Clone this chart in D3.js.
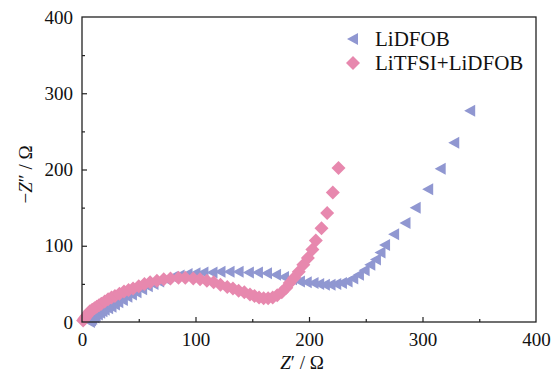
<!DOCTYPE html>
<html>
<head>
<meta charset="utf-8">
<script src="https://cdn.jsdelivr.net/npm/d3@7"></script>
<style>
body { margin: 0; background: #fff; }
</style>
</head>
<body>
<script>
var width = 560;
var height = 373;
var serif = "Liberation Serif";

// series names
var seriesNames = ["LiDFOB", "LiTFSI+LiDFOB"];

// LiDFOB: [Z', -Z'']
var lidfob = [[7,0],[8,2],[9,4],[11,6],[12,8],[14,10],[16,12],[18,14],[20,16],[23,18],[26,20],[29,23],[32,26],[36,29],[40,33],[44,36],[48,39],[53,43],[58,47],[63,50],[68,53],[74,56],[80,59],[86,61],[93,63],[100,64],[107,65],[115,65],[122,66],[130,66],[138,66],[147,65],[155,65],[163,64],[171,62],[178,59],[185,56],[192,53],[198,52],[204,51],[209,50],[214,49],[219,49],[224,50],[229,51],[234,53],[239,57],[244,62],[249,68],[254,75],[259,82],[263,91],[267,101],[275,115],[285,130],[294,150],[305,174],[316,201],[328,235],[342,277]];

// LiTFSI+LiDFOB: [Z', -Z'']
var mixed = [[1,2],[2,4],[3,6],[4,8],[5,10],[6,12],[7,14],[9,16],[11,18],[13,20],[15,22],[17,24],[20,27],[23,30],[26,32],[29,34],[33,37],[37,40],[41,42],[45,44],[50,47],[55,50],[60,52],[66,54],[72,56],[78,57],[85,58],[91,58],[98,57],[104,56],[110,54],[116,52],[122,49],[128,46],[133,44],[138,41],[143,39],[148,36],[152,34],[156,32],[160,31],[164,31],[168,32],[172,35],[176,39],[180,45],[183,51],[187,58],[191,66],[195,75],[199,84],[203,95],[206,107],[211,123],[216,143],[221,170],[226,202]];

var xTicks = [0, 100, 200, 300, 400];
var yTicks = [0, 100, 200, 300, 400];
var minorTicks = [50, 150, 250, 350];

var margin = {left: 82, right: 24, top: 17, bottom: 51};

var svg = d3.select("body").append("svg")
  .attr("width", width)
  .attr("height", height)
  .attr("font-family", serif);

var x = d3.scaleLinear().domain([0, 400]).range([margin.left, width - margin.right]);
var y = d3.scaleLinear().domain([0, 400]).range([height - margin.bottom, margin.top]);

var triPath = "M-6,0L5,-6L5,6Z";
var diaPath = "M0,-7L7,0L0,7L-7,0Z";
var triColor = "#9097d1";
var diaColor = "#e788ae";

// markers
svg.append("g").selectAll("path")
  .data(lidfob)
  .enter().append("path")
  .attr("d", triPath)
  .attr("transform", function(d){ return "translate(" + x(d[0]) + "," + y(d[1]) + ")"; })
  .attr("fill", triColor);

svg.append("g").selectAll("path")
  .data(mixed)
  .enter().append("path")
  .attr("d", diaPath)
  .attr("transform", function(d){ return "translate(" + x(d[0]) + "," + y(d[1]) + ")"; })
  .attr("fill", diaColor);

// frame
svg.append("rect")
  .attr("x", x(0))
  .attr("y", y(400))
  .attr("width", x(400) - x(0))
  .attr("height", y(0) - y(400))
  .attr("fill", "none")
  .attr("stroke", "#222")
  .attr("stroke-width", 1.3);

// axes
var xAxis = svg.append("g")
  .attr("transform", "translate(0," + y(0) + ")")
  .call(d3.axisBottom(x).tickValues(xTicks).tickSize(-5).tickPadding(11));
xAxis.selectAll(".tick").filter(function(d){ return d == 0 || d == 400; }).select("line").remove();

var xMinor = svg.append("g")
  .attr("transform", "translate(0," + y(0) + ")")
  .call(d3.axisBottom(x).tickValues(minorTicks).tickSize(-3).tickFormat(""));

var yAxis = svg.append("g")
  .attr("transform", "translate(" + x(0) + ",0)")
  .call(d3.axisLeft(y).tickValues(yTicks).tickSize(-5).tickPadding(9));
yAxis.selectAll(".tick").filter(function(d){ return d == 0 || d == 400; }).select("line").remove();

var yMinor = svg.append("g")
  .attr("transform", "translate(" + x(0) + ",0)")
  .call(d3.axisLeft(y).tickValues(minorTicks).tickSize(-3).tickFormat(""));

[xAxis, xMinor, yAxis, yMinor].forEach(function(g){
  g.attr("font-family", serif).attr("font-size", 19);
  g.select(".domain").remove();
  g.selectAll("line").attr("stroke", "#222").attr("stroke-width", 1.2);
  g.selectAll("text").attr("fill", "#111").attr("font-family", serif);
});

// axis titles
var xt = svg.append("text")
  .attr("x", (x(0) + x(400)) / 2 - 7)
  .attr("y", 369)
  .attr("text-anchor", "middle")
  .attr("font-family", serif)
  .attr("font-size", 19)
  .attr("fill", "#111");
xt.append("tspan").attr("font-style", "italic").text("Z");
xt.append("tspan").text("\u2032 / \u03A9");

var yt = svg.append("text")
  .attr("transform", "translate(32," + ((y(0) + y(400)) / 2 + 5) + ") rotate(-90)")
  .attr("text-anchor", "middle")
  .attr("font-family", serif)
  .attr("font-size", 19)
  .attr("fill", "#111");
yt.append("tspan").text("\u2212");
yt.append("tspan").attr("font-style", "italic").text("Z");
yt.append("tspan").text("\u2033 / \u03A9");

// legend
var legend = svg.append("g");
legend.append("path")
  .attr("d", triPath)
  .attr("transform", "translate(353,39)")
  .attr("fill", triColor);
legend.append("path")
  .attr("d", diaPath)
  .attr("transform", "translate(353,63)")
  .attr("fill", diaColor);
legend.selectAll("text.lg")
  .data(seriesNames)
  .enter().append("text")
  .attr("class", "lg")
  .attr("x", 375)
  .attr("y", function(d, i){ return 46 + i * 24; })
  .attr("font-family", serif)
  .attr("font-size", 21)
  .attr("fill", "#111")
  .text(function(d){ return d; });
</script>
</body>
</html>
